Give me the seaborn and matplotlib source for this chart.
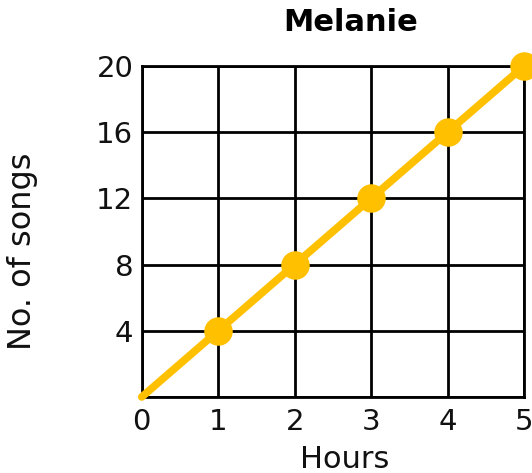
import matplotlib
matplotlib.use("Agg")
import matplotlib.pyplot as plt
import seaborn as sns
import pandas as pd

hours = [0, 1, 2, 3, 4, 5]
songs = [0, 4, 8, 12, 16, 20]
x_ticks = [0, 1, 2, 3, 4, 5]
y_ticks = [0, 4, 8, 12, 16, 20]
y_tick_labels = ["", "4", "8", "12", "16", "20"]
title = "Melanie"
x_label = "Hours"
y_label = "No. of songs"

sns.set_style("white")
plt.rcParams['font.family'] = ['DejaVu Sans']

color = "#FFC000"
df = pd.DataFrame({"Hours": hours, "Songs": songs})

fig = plt.figure(figsize=(5.32, 4.73), dpi=100)
ax = fig.add_axes([0.2664, 0.1607, 0.7186, 0.6998])

sns.lineplot(data=df, x="Hours", y="Songs", ax=ax, color=color, linewidth=5.5,
             clip_on=False, zorder=3)
mk = df[df["Hours"] > 0]
ax.plot(mk["Hours"], mk["Songs"], linestyle="none", marker="o", markersize=19.5,
        color=color, clip_on=False, zorder=4)

ax.set_xlim(0, 5)
ax.set_ylim(0, 20)
ax.set_xticks(x_ticks)
ax.set_yticks(y_ticks)
ax.set_yticklabels(y_tick_labels)
ax.tick_params(axis="both", length=0, labelsize=21, colors="#111111")
ax.tick_params(axis="x", pad=8)
ax.tick_params(axis="y", pad=6)
ax.grid(True, color="black", linewidth=2)
ax.set_axisbelow(True)
for s in ax.spines.values():
    s.set_color("black")
    s.set_linewidth(2)
    s.set_visible(True)

ax.set_xlabel(x_label, fontsize=22, color="#111111")
ax.xaxis.label.set_va("center")
ax.xaxis.set_label_coords(0.532, -0.19)
ax.set_ylabel(y_label, fontsize=23, color="#111111")
ax.yaxis.label.set_va("center")
ax.yaxis.set_label_coords(-0.313, 0.441)

ax.text(0.547, 1.13, title, transform=ax.transAxes, ha="center", va="center",
        fontsize=22, fontweight="bold", color="black")

fig.savefig("out.png", dpi=100)
